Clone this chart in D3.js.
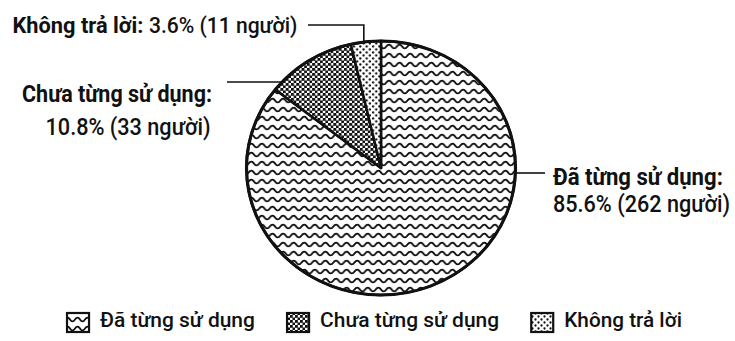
<!DOCTYPE html>
<html>
<head>
<meta charset="utf-8">
<script src="https://cdn.jsdelivr.net/npm/d3@7"></script>
<style>
  html, body { margin: 0; padding: 0; background: #fff; }
  svg { display: block; font-family: Roboto, "Liberation Sans", "DejaVu Sans", sans-serif; }
</style>
</head>
<body>
<svg id="chart" width="735" height="341"></svg>
<script>
// Survey answers: share of respondents and head counts
const categories = ["Đã từng sử dụng", "Chưa từng sử dụng", "Không trả lời"];
const percents = [85.6, 10.8, 3.6];
const counts = [262, 33, 11];
const patternIds = ["pat-wave", "pat-check", "pat-dots"];

const data = categories.map((c, i) => ({ name: c, pct: percents[i], n: counts[i], pat: patternIds[i] }));

const svg = d3.select("#chart");
const defs = svg.append("defs");
const ink = "#111";

// Wavy lines
const wave = defs.append("pattern").attr("id", "pat-wave")
  .attr("patternUnits", "userSpaceOnUse").attr("width", 10).attr("height", 9);
wave.append("rect").attr("width", 10).attr("height", 9).attr("fill", "#fff");
wave.append("path").attr("d", "M-5 4.5 Q-2.5 0.6 0 4.5 T5 4.5 T10 4.5 T15 4.5")
  .attr("fill", "none").attr("stroke", ink).attr("stroke-width", 1.8);

// Dense checker
const check = defs.append("pattern").attr("id", "pat-check")
  .attr("patternUnits", "userSpaceOnUse").attr("width", 5).attr("height", 5);
check.append("rect").attr("width", 5).attr("height", 5).attr("fill", "#fff");
check.append("rect").attr("x", 0).attr("y", 0).attr("width", 2.8).attr("height", 2.8).attr("fill", ink);
check.append("rect").attr("x", 2.5).attr("y", 2.5).attr("width", 2.8).attr("height", 2.8).attr("fill", ink);

// Sparse dots
const dots = defs.append("pattern").attr("id", "pat-dots")
  .attr("patternUnits", "userSpaceOnUse").attr("width", 6).attr("height", 6);
dots.append("rect").attr("width", 6).attr("height", 6).attr("fill", "#fff");
dots.append("circle").attr("cx", 1.5).attr("cy", 1.5).attr("r", 1.15).attr("fill", ink);
dots.append("circle").attr("cx", 4.5).attr("cy", 4.5).attr("r", 1.15).attr("fill", ink);

// Pie geometry (slightly wider than tall)
const cx = 381, cy = 168, rx = 134.5, ry = 127;
const sx = rx / ry;

const pie = d3.pie().sort(null).value(d => d.pct);
const arcs = pie(data);
const arc = d3.arc().innerRadius(0).outerRadius(ry);

const g = svg.append("g").attr("transform", `translate(${cx},${cy}) scale(${sx},1)`);
g.selectAll("path.slice").data(arcs).join("path")
  .attr("class", "slice")
  .attr("d", arc)
  .attr("fill", d => `url(#${d.data.pat})`)
  .attr("stroke", ink)
  .attr("stroke-width", 2.4)
  .attr("stroke-linejoin", "round");
g.append("circle").attr("r", ry).attr("fill", "none")
  .attr("stroke", ink).attr("stroke-width", 3);

// helpers for points on the pie rim
const rimAtAngle = a => [cx + rx * Math.sin(a), cy - ry * Math.cos(a)];
const rimXAtY = (y, side) => cx + side * rx * Math.sqrt(1 - Math.pow((y - cy) / ry, 2));
const rimYAtX = x => cy - ry * Math.sqrt(1 - Math.pow((x - cx) / rx, 2));

const fmt = d3.format(".1f");
const valueText = d => `${fmt(d.pct)}% (${d.n} người)`;

const line = d3.line();
const leader = pts => svg.append("path").attr("d", line(pts))
  .attr("fill", "none").attr("stroke", ink).attr("stroke-width", 1.6);

// Text helper: heavier glyphs narrowed horizontally to a given width
function label(parent, x, y, size, weight, str, width, anchor) {
  const grp = parent.append("g");
  const t = grp.append("text").attr("x", 0).attr("y", 0)
    .attr("font-size", size).attr("font-weight", weight).attr("fill", ink)
    .attr("text-anchor", anchor || "start").text(str);
  const k = width ? width / t.node().getComputedTextLength() : 1;
  grp.attr("transform", `translate(${x},${y}) scale(${k},1)`);
  return grp;
}

// Label: Không trả lời (single line, leader drops onto slice)
{
  const d = data[2];
  label(svg, 12.5, 33, 21.5, 700, d.name + ":", 131);
  label(svg, 149, 33, 21.5, 500, valueText(d), 148.5);
  const a = arcs[2];
  const mid = (a.startAngle + a.endAngle) / 2;
  const lx = rimAtAngle(mid)[0] - 2;
  const ly = 25;
  leader([[308, ly], [lx, ly], [lx, rimYAtX(lx)]]);
}

// Label: Chưa từng sử dụng (two lines, right aligned)
{
  const d = data[1];
  label(svg, 212, 101.5, 23.5, 700, d.name + ":", 190, "end");
  label(svg, 210.5, 134.5, 23.5, 500, valueText(d), 165, "end");
  const ly = 82;
  leader([[227, ly], [rimXAtY(ly, -1), ly]]);
}

// Label: Đã từng sử dụng (two lines, left aligned)
{
  const d = data[0];
  label(svg, 553, 184.5, 23.5, 700, d.name + ":", 170);
  label(svg, 553, 212, 23.5, 500, valueText(d), 177);
  const ly = 173;
  leader([[rimXAtY(ly, 1), ly], [545, ly]]);
}

// Legend
{
  const iconW = 24, iconH = 21, gap = 10, spacing = 31, ly = 312, base = 327;
  const lg = svg.append("g");
  // advance widths of the regular face set the layout; medium glyphs are fitted into them
  const items = data.map(d => {
    const probe = lg.append("text").attr("font-size", 21).attr("font-weight", 400).text(d.name);
    const w = probe.node().getComputedTextLength();
    probe.remove();
    return { d, w };
  });
  const total = d3.sum(items, it => iconW + gap + it.w) + spacing * (items.length - 1);
  let x = 374 - total / 2;
  items.forEach(it => {
    lg.append("rect").attr("x", x + 1).attr("y", ly + 1)
      .attr("width", iconW - 2).attr("height", iconH - 2)
      .attr("fill", `url(#${it.d.pat})`).attr("stroke", ink).attr("stroke-width", 2.2);
    label(lg, x + iconW + gap, base, 21, 500, it.d.name, it.w);
    x += iconW + gap + it.w + spacing;
  });
}
</script>
</body>
</html>
